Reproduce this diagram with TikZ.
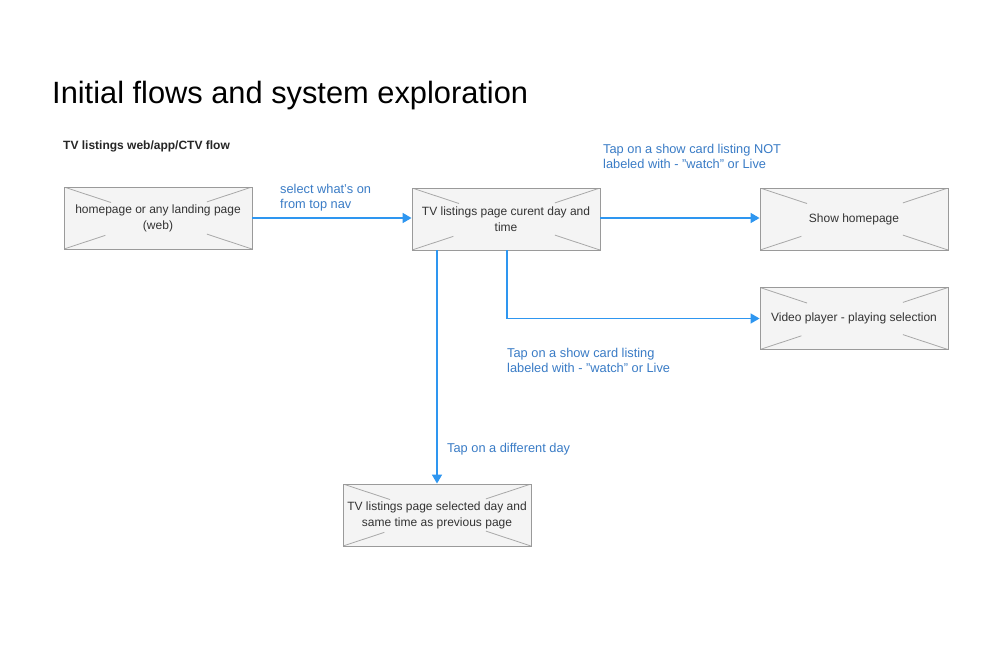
\documentclass[tikz,border=0pt]{standalone}
\usepackage{fontspec}
\setmainfont{Liberation Sans}
\usetikzlibrary{arrows.meta,calc}
\definecolor{boxfill}{HTML}{F4F4F4}
\definecolor{boxline}{HTML}{9A9A9A}
\definecolor{crossline}{HTML}{A8A8A8}
\definecolor{flow}{HTML}{2E96F0}
\definecolor{lbl}{HTML}{3A7CC6}
\definecolor{txt}{HTML}{333333}
\tikzset{
  wire/.style={draw=boxline, line width=0.9pt, fill=boxfill, minimum width=188pt, minimum height=62pt,
    inner sep=0pt, align=center, font=\fontsize{12}{16}\selectfont, text=txt,
    path picture={
      \coordinate (nw) at (path picture bounding box.north west);
      \coordinate (ne) at (path picture bounding box.north east);
      \coordinate (sw) at (path picture bounding box.south west);
      \coordinate (se) at (path picture bounding box.south east);
      \draw[crossline, line width=0.8pt] (nw) -- ($(nw)!0.25!(se)$);
      \draw[crossline, line width=0.8pt] (se) -- ($(se)!0.24!(nw)$);
      \draw[crossline, line width=0.8pt] (ne) -- ($(ne)!0.24!(sw)$);
      \draw[crossline, line width=0.8pt] (sw) -- ($(sw)!0.22!(ne)$);
    }},
  flowarrow/.style={draw=flow, line width=1.6pt, -{Triangle[length=9pt,width=10pt]}},
  flowlabel/.style={text=lbl, font=\fontsize{12.8}{14.5}\selectfont, align=left, anchor=north west, inner sep=0pt},
}
\begin{document}
\begin{tikzpicture}[x=1pt,y=-1pt]
\useasboundingbox[fill=white] (0,0) rectangle (1000,666);
\node[anchor=base west, inner sep=0pt, font=\fontsize{30.8}{36}\selectfont, text=black] (title) at (52,103) {Initial flows and system exploration};
\node[anchor=base west, inner sep=0pt, font=\bfseries\fontsize{12}{14}\selectfont, text=black!85] (sub) at (63,149) {TV listings web/app/CTV flow};

\node[wire] (home) at (158,218) {homepage or any landing page\\(web)};
\node[wire] (tvl) at (506,219) {TV listings page curent day and\\time};
\node[wire] (show) at (854,219) {Show homepage};
\node[wire] (video) at (854,318.5) {Video player - playing selection};
\node[wire] (sel) at (437,515) {TV listings page selected day and\\same time as previous page};

\draw[flowarrow] (home.east |- 0,218) -- (tvl.west |- 0,218);
\draw[flowarrow] (tvl.east |- 0,218) -- (show.west |- 0,218);
\draw[flowarrow] (tvl.south -| 507,0) |- (video.west);
\draw[flowarrow] (tvl.south -| 437,0) -- (sel.north);

\node[flowlabel] (l1) at (280,184.5) {select what's on\\from top nav};
\node[flowlabel] (l2) at (603,144.5) {Tap on a show card listing NOT\\labeled with - "watch" or Live};
\node[flowlabel] (l3) at (507,348.5) {Tap on a show card listing\\labeled with - "watch" or Live};
\node[flowlabel] (l4) at (447,443) {Tap on a different day};
\end{tikzpicture}
\end{document}
